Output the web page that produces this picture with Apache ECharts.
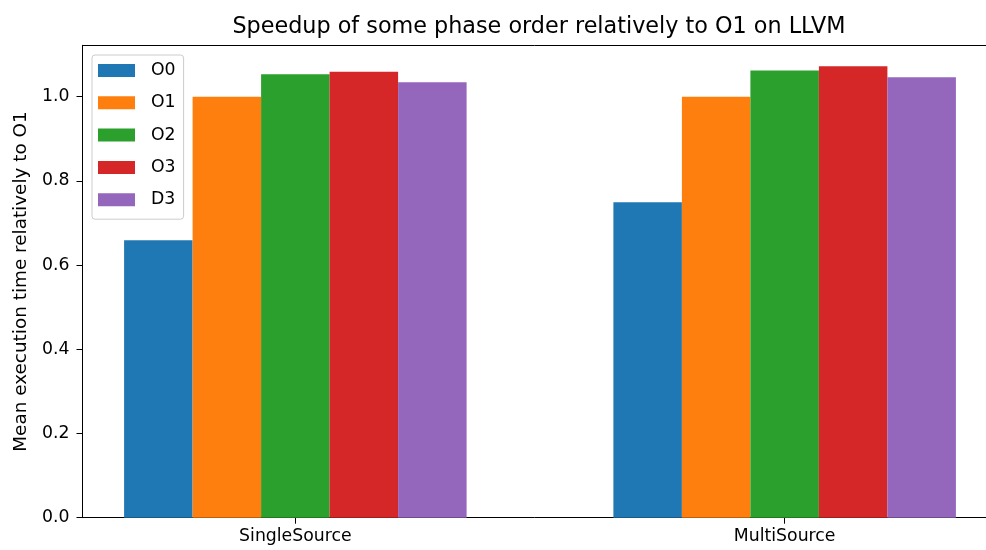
<!DOCTYPE html>
<html>
<head>
<meta charset="utf-8">
<script src="https://cdn.jsdelivr.net/npm/echarts@6/dist/echarts.min.js"></script>
<style>html,body{margin:0;padding:0;background:#fff;}#c{width:986px;height:550px;}</style>
</head>
<body>
<div id="c"></div>
<script>
const categories = ['SingleSource', 'MultiSource'];
const seriesNames = ['O0', 'O1', 'O2', 'O3', 'D3'];
const O0 = [0.659, 0.749];
const O1 = [1.0, 1.0];
const O2 = [1.053, 1.062];
const O3 = [1.059, 1.072];
const D3 = [1.034, 1.046];
const yTicks = [0.0, 0.2, 0.4, 0.6, 0.8, 1.0];
const barOffsetUnit = 0.14;   // bar width in x-data units (matplotlib-like layout)
const colors = ['#1f77b4', '#ff7f0e', '#2ca02c', '#d62728', '#9467bd'];
const values = [O0, O1, O2, O3, D3];
const groupPos = categories.map((c, i) => i);

const font = 'DejaVu Sans';
const chart = echarts.init(document.getElementById('c'), null, {renderer: 'canvas'});

const series = seriesNames.map((name, si) => ({
  name: name,
  type: 'bar',
  xAxisIndex: 0,
  barWidth: 68.5,
  barGap: '-100%',
  itemStyle: {color: colors[si]},
  data: values[si].map((v, gi) => [groupPos[gi] + (si - 2) * barOffsetUnit, v])
}));

const xMin = -0.435, xMax = 1.4115;

chart.setOption({
  animation: false,
  backgroundColor: '#fff',
  title: {
    text: 'Speedup of some phase order relatively to O1 on LLVM',
    left: 534, top: 11, textAlign: 'center',
    textStyle: {fontFamily: font, fontSize: 22.3, fontWeight: 'normal', color: '#000'}
  },
  legend: {
    data: seriesNames,
    orient: 'vertical',
    left: 92, top: 55,
    padding: [7, 8, 11, 6],
    itemWidth: 37, itemHeight: 13, itemGap: 15.3,
    backgroundColor: 'rgba(255,255,255,0.8)',
    borderColor: '#cccccc', borderWidth: 1, borderRadius: 3,
    icon: 'rect',
    textStyle: {fontFamily: font, fontSize: 17.3, color: '#000', lineHeight: 13, padding: [0, 0, 0, 11]}
  },
  grid: {
    left: 82.5, top: 45.3, right: 0, bottom: 32.3,
    show: false, containLabel: false
  },
  xAxis: [{
    type: 'value',
    min: xMin, max: xMax,
    splitLine: {show: false},
    axisLine: {show: true, onZero: false, lineStyle: {color: '#000', width: 1}},
    axisTick: {show: true, length: 6, customValues: groupPos, lineStyle: {color: '#000'}},
    axisLabel: {
      customValues: groupPos, margin: 10,
      fontFamily: font, fontSize: 17.3, color: '#000',
      formatter: v => categories[Math.round(v)]
    }
  }, {
    type: 'value', position: 'top',
    min: xMin, max: xMax,
    splitLine: {show: false},
    axisLine: {show: true, onZero: false, lineStyle: {color: '#000', width: 1}},
    axisTick: {show: false},
    axisLabel: {show: false}
  }],
  yAxis: {
    type: 'value',
    min: 0, max: 1.122,
    name: 'Mean execution time relatively to O1',
    nameLocation: 'middle', nameGap: 52,
    nameTextStyle: {fontFamily: font, fontSize: 18.4, color: '#000'},
    splitLine: {show: false},
    axisLine: {show: true, onZero: false, lineStyle: {color: '#000', width: 1}},
    axisTick: {show: true, length: 6, customValues: yTicks, lineStyle: {color: '#000'}},
    axisLabel: {
      customValues: yTicks, margin: 13,
      fontFamily: font, fontSize: 17.3, color: '#000',
      formatter: v => v.toFixed(1)
    }
  },
  series: series
});
</script>
</body>
</html>
